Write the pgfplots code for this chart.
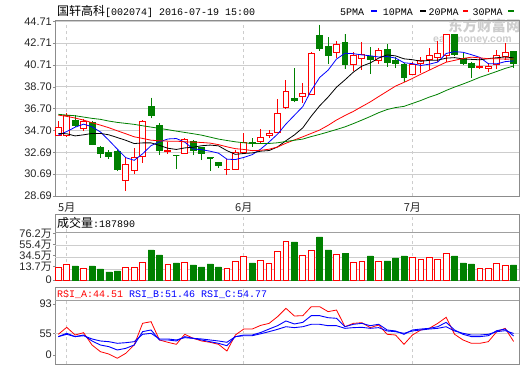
\documentclass[border=0pt]{standalone}
\usepackage{pgfplots}
\pgfplotsset{compat=1.18}
\usepackage{pgfplotstable}
\usepgfplotslibrary{statistics}
\usepackage{fontspec}
\setmainfont{Liberation Sans}
\newfontfamily\cjk{Noto Sans CJK SC}
\newfontfamily\mono{Liberation Mono}
\definecolor{cgreen}{RGB}{0,128,0}
\definecolor{cred}{RGB}{255,0,0}
\definecolor{cblue}{RGB}{0,0,255}
\definecolor{framec}{RGB}{140,140,140}
\definecolor{sepc}{RGB}{160,160,160}
\definecolor{gridc}{RGB}{205,205,205}
\definecolor{wmark}{RGB}{205,205,205}

\pgfplotstableread{
i o h l c v up
0 34.25 35.56 34.15 35.00 15.9 1
1 34.22 36.30 34.18 36.08 20.0 1
2 35.63 36.11 35.04 35.18 17.5 0
3 34.89 35.72 34.67 35.50 14.6 1
4 35.41 35.56 33.35 33.45 17.5 0
5 33.11 33.29 32.19 32.59 13.8 0
6 32.68 32.89 32.07 32.28 10.0 0
7 32.74 32.95 30.96 31.15 11.3 0
8 30.13 32.28 29.15 31.57 15.9 1
9 30.99 33.05 30.69 32.22 15.9 1
10 32.28 35.62 31.73 35.56 22.1 1
11 36.88 37.71 35.81 36.05 37.5 0
12 35.19 35.35 32.43 32.89 31.3 0
13 32.74 33.60 32.55 32.89 19.6 1
14 32.43 32.47 31.15 32.43 21.3 0
15 32.59 34.03 32.50 33.91 22.1 1
16 33.72 33.82 32.43 32.89 18.8 0
17 33.14 33.20 31.98 32.59 16.3 0
18 32.22 32.24 30.99 32.20 20.0 0
19 31.79 31.82 31.27 31.51 16.3 0
20 31.08 32.07 30.59 31.15 14.6 1
21 31.15 32.89 31.05 32.68 23.4 1
22 32.68 34.43 32.59 33.60 29.6 1
23 33.60 33.97 33.20 33.48 21.3 0
24 33.66 34.80 33.51 34.03 25.0 1
25 34.21 34.74 33.97 34.43 20.9 1
26 34.52 37.56 34.43 36.27 35.9 1
27 36.79 39.34 36.67 38.26 48.4 1
28 37.65 40.41 37.28 37.46 47.5 0
29 37.86 39.03 37.19 38.05 30.9 1
30 38.02 41.85 37.96 41.79 37.1 1
31 43.42 44.40 42.00 42.25 53.8 0
32 42.40 43.26 40.78 41.58 37.5 0
33 41.88 42.92 41.33 42.56 32.5 1
34 42.80 43.54 40.32 40.72 32.9 0
35 40.78 41.88 40.16 41.58 22.5 1
36 41.33 42.80 40.26 41.70 23.4 1
37 41.45 42.31 39.86 41.18 30.0 0
38 41.11 42.25 40.78 42.00 23.4 1
39 42.10 42.62 40.56 40.96 23.8 0
40 41.08 41.48 40.41 40.84 27.5 0
41 40.78 40.87 39.18 39.55 30.0 0
42 39.86 40.96 39.80 40.78 28.4 1
43 40.87 41.48 39.95 41.15 25.9 1
44 41.18 42.25 40.26 41.58 28.4 1
45 41.39 42.92 41.02 41.79 25.9 1
46 41.58 43.54 41.02 43.48 33.4 1
47 43.48 43.48 41.58 41.64 30.0 0
48 41.27 41.79 40.72 40.87 21.3 0
49 40.87 41.02 39.49 40.47 20.0 0
50 40.47 41.33 40.41 40.53 14.6 1
51 40.41 40.87 40.04 40.59 14.6 1
52 40.72 42.10 40.35 41.58 20.9 1
53 41.45 42.71 41.18 41.88 18.4 1
54 41.94 42.00 40.47 40.81 18.8 0
}\candles

\pgfplotstableread{
i ma5 ma10 ma20 ma30
0 34.27 34.43 36.11 36.18
1 34.60 34.40 35.99 36.11
2 35.00 34.20 35.84 36.05
3 35.28 34.30 35.65 35.93
4 35.04 34.43 35.41 35.81
5 34.56 34.43 35.19 35.72
6 33.80 34.30 34.95 35.56
7 32.99 34.05 34.67 35.44
8 32.21 33.80 34.40 35.35
9 31.96 33.50 34.12 35.26
10 32.56 33.56 33.97 35.13
11 33.31 33.56 33.81 35.01
12 33.66 33.33 33.75 34.89
13 33.92 33.07 33.72 34.77
14 33.96 32.96 33.72 34.64
15 33.63 33.10 33.66 34.52
16 33.00 33.16 33.63 34.40
17 32.94 33.30 33.60 34.27
18 32.80 33.36 33.54 34.09
19 32.62 33.29 33.40 33.91
20 32.07 32.85 33.20 33.78
21 32.03 32.51 33.03 33.66
22 32.23 32.59 32.96 33.57
23 32.48 32.64 32.85 33.51
24 32.99 32.80 32.88 33.51
25 33.64 32.86 32.98 33.51
26 34.36 33.19 33.18 33.57
27 35.29 33.76 33.53 33.69
28 36.09 34.29 33.83 33.80
29 36.89 34.94 34.12 33.91
30 38.37 36.01 34.43 34.14
31 39.56 36.96 34.74 34.34
32 40.23 37.76 35.17 34.56
33 41.25 38.67 35.66 34.79
34 41.78 39.34 36.07 35.03
35 41.74 40.05 36.45 35.33
36 41.63 40.60 36.89 35.65
37 41.55 40.89 37.32 35.98
38 41.44 41.34 37.81 36.33
39 41.48 41.63 38.29 36.62
40 41.34 41.54 38.77 36.80
41 40.91 41.27 39.11 36.91
42 40.83 41.19 39.47 37.18
43 40.66 41.05 39.86 37.45
44 40.78 41.13 40.23 37.76
45 40.97 41.15 40.60 38.02
46 41.76 41.33 40.96 38.37
47 41.93 41.38 41.13 38.68
48 41.87 41.26 41.30 38.96
49 41.65 41.22 41.42 39.26
50 41.40 41.18 41.36 39.58
51 40.82 41.29 41.28 39.84
52 40.81 41.37 41.28 40.11
53 41.01 41.44 41.24 40.39
54 41.08 41.36 41.25 40.61
}\mas

\pgfplotstableread{
i a b c
0 53.7 50.7 50.7
1 62.7 55.0 53.7
2 52.8 50.7 50.7
3 55.8 52.8 51.9
4 39.9 45.1 47.7
5 31.3 39.9 45.1
6 28.3 37.8 44.2
7 22.8 33.5 42.1
8 29.2 35.6 42.9
9 39.9 39.9 44.2
10 67.9 57.1 53.7
11 70.0 59.3 55.0
12 46.4 46.4 47.7
13 43.4 46.4 47.7
14 40.8 45.1 46.4
15 53.7 50.7 49.4
16 48.6 48.5 48.5
17 45.1 46.4 47.7
18 43.4 44.2 46.4
19 40.8 42.1 45.1
20 32.2 39.0 43.4
21 52.8 50.7 50.7
22 60.5 52.8 51.9
23 60.5 52.8 51.9
24 65.2 56.0 54.4
25 67.8 60.5 57.1
26 76.4 64.8 60.1
27 87.2 70.9 63.5
28 77.3 67.0 62.3
29 77.7 69.1 63.5
30 89.3 77.7 66.6
31 89.3 77.7 66.6
32 82.9 75.1 64.8
33 85.0 74.3 64.8
34 63.5 63.5 61.4
35 67.8 66.6 62.3
36 68.7 67.8 62.7
37 62.3 64.8 61.4
38 65.7 66.6 62.3
39 53.7 59.3 58.0
40 52.8 58.0 57.1
41 40.8 53.7 55.0
42 52.8 59.3 58.0
43 59.3 60.5 59.3
44 61.4 61.4 60.5
45 67.8 63.5 61.4
46 75.6 69.1 63.5
47 53.7 59.3 58.0
48 46.4 53.7 55.0
49 42.1 50.7 52.8
50 42.1 50.7 52.8
51 44.2 51.9 53.7
52 57.1 58.4 57.1
53 61.4 60.5 58.4
54 44.5 51.5 54.8
}\rsi

\pgfplotsset{
  panel/.style={
    scale only axis, width=464pt, xmin=-0.39, xmax=54.64,
    axis line style={framec, line width=0.8pt},
    tick align=outside, major tick length=2pt,
    ytick pos=left, xtick pos=bottom,
    ytick style={draw=framec, line width=0.6pt},
    xtick style={draw=none},
    xtick={1,22,42}, xmajorgrids,
    x grid style={gridc, dash pattern=on 3pt off 3pt, line width=0.7pt},
    y grid style={gridc, line width=0.7pt},
    tick label style={font=\fontsize{11}{11}\selectfont, text=black!85},
    yticklabel style={inner sep=1pt},
    clip=true,
  }
}

\begin{document}
\begin{tikzpicture}
\path[use as bounding box] (0,0) rectangle (520pt,365pt);
% watermark
\node[anchor=base west, inner sep=0, text=wmark] at (448pt,333pt) {\cjk\bfseries\fontsize{14.5}{14.5}\selectfont 东方财富网};
\node[anchor=base west, inner sep=0, text=wmark] at (433pt,322pt) {\bfseries\fontsize{10.5}{10.5}\selectfont eastmoney.com};

% ---------- price panel ----------
\begin{axis}[panel, at={(55pt,169pt)}, anchor=south west, height=176pt,
  ymin=28.69, ymax=44.83,
  ytick={28.69,30.69,32.69,34.70,36.70,38.70,40.71,42.71,44.71},
  yticklabels={28.69,30.69,32.69,34.70,36.70,38.70,40.71,42.71,44.71},
  ymajorgrids,
  xticklabels={5月,6月,7月},
  xticklabel style={font=\cjk\fontsize{11}{11}\selectfont, anchor=north, yshift=-1pt},
  boxplot/draw direction=y,
]
\pgfplotstablegetrowsof{\candles}
\pgfmathtruncatemacro\nrows{\pgfplotsretval-1}
\pgfplotsforeachungrouped \r in {0,...,\nrows}{%
  \pgfplotstablegetelem{\r}{i}\of\candles\edef\cI{\pgfplotsretval}%
  \pgfplotstablegetelem{\r}{o}\of\candles\edef\cO{\pgfplotsretval}%
  \pgfplotstablegetelem{\r}{h}\of\candles\edef\cH{\pgfplotsretval}%
  \pgfplotstablegetelem{\r}{l}\of\candles\edef\cL{\pgfplotsretval}%
  \pgfplotstablegetelem{\r}{c}\of\candles\edef\cC{\pgfplotsretval}%
  \pgfplotstablegetelem{\r}{up}\of\candles\edef\cU{\pgfplotsretval}%
  \pgfmathsetmacro\cLo{min(\cO,\cC)}%
  \pgfmathsetmacro\cHi{max(\cO,\cC)}%
  \ifnum\cU=1 \def\cCol{cred}\def\cFill{white}\else\def\cCol{cgreen}\def\cFill{cgreen}\fi
  \edef\doplot{\noexpand\addplot[draw=\cCol, fill=\cFill, line width=0.9pt, solid,
     boxplot prepared={draw direction=y, draw position=\cI, lower whisker=\cL, lower quartile=\cLo,
     median=\cLo, upper quartile=\cHi, upper whisker=\cH, box extend=0.7, whisker extend=0}]
     coordinates {};}%
  \doplot
}
\addplot[cblue, line width=0.8pt, mark=none] table[x=i,y=ma5]{\mas};
\addplot[black, line width=0.8pt, mark=none] table[x=i,y=ma10]{\mas};
\addplot[cred, line width=0.8pt, mark=none] table[x=i,y=ma20]{\mas};
\addplot[cgreen, line width=0.8pt, mark=none] table[x=i,y=ma30]{\mas};
\end{axis}

% ---------- volume panel ----------
\begin{axis}[panel, at={(55pt,85pt)}, anchor=south west, height=65.7pt,
  ymin=0, ymax=82.1,
  ytick={0,16.6,30.4,44.6,58.4},
  yticklabels={0,{13.7{\cjk 万}},{34.5{\cjk 万}},{55.4{\cjk 万}},{76.2{\cjk 万}}},
  extra y ticks={13.4,28.4,43.4}, extra y tick labels={},
  extra y tick style={ymajorgrids=true, major tick length=0pt},
  xticklabels={},
]
\addplot[sepc, line width=0.8pt, mark=none] coordinates {(-0.39,59.1) (54.64,59.1)};
\addplot[ybar, bar width=0.68, bar shift=0pt, draw=cred, fill=white, line width=0.9pt]
  table[x=i, y=v, restrict expr to domain={\thisrow{up}}{1:1}]{\candles};
\addplot[ybar, bar width=0.7, bar shift=0pt, draw=cgreen, fill=cgreen, line width=0.5pt]
  table[x=i, y=v, restrict expr to domain={\thisrow{up}}{0:0}]{\candles};
\end{axis}

% ---------- RSI panel ----------
\begin{axis}[panel, at={(55pt,1pt)}, anchor=south west, height=76.7pt,
  ymin=15.44, ymax=114.28,
  ytick={27,55,93}, yticklabels={0,55,93},
  extra y ticks={55}, extra y tick labels={},
  extra y tick style={ymajorgrids=true, major tick length=0pt},
  xticklabels={},
]
\addplot[sepc, line width=0.8pt, mark=none] coordinates {(-0.39,97.0) (54.64,97.0)};
\addplot[cred, line width=0.8pt, mark=none] table[x=i,y=a]{\rsi};
\addplot[cblue, line width=0.9pt, mark=none] table[x=i,y=b]{\rsi};
\addplot[cblue, line width=0.9pt, mark=none] table[x=i,y=c]{\rsi};
\end{axis}

% ---------- headers ----------
\node[anchor=base west, inner sep=0] at (57pt,349pt)
  {{\cjk\fontsize{12}{12}\selectfont 国轩高科}{\mono\fontsize{10}{10}\selectfont [002074] 2016-07-19 15:00}};
\node[anchor=base west, inner sep=0] at (340pt,349pt) {\mono\fontsize{10}{10}\selectfont 5PMA};
\fill[cblue] (371pt,353pt) rectangle (376.5pt,355pt);
\node[anchor=base west, inner sep=0] at (382.7pt,349pt) {\mono\fontsize{10}{10}\selectfont 10PMA};
\fill[black] (420pt,353pt) rectangle (425.5pt,355pt);
\node[anchor=base west, inner sep=0] at (428.3pt,349pt) {\mono\fontsize{10}{10}\selectfont 20PMA};
\fill[cred] (462.7pt,353pt) rectangle (468.2pt,355pt);
\node[anchor=base west, inner sep=0] at (472.3pt,349pt) {\mono\fontsize{10}{10}\selectfont 30PMA};
\fill[cgreen] (508.3pt,353pt) rectangle (513.8pt,355pt);

\node[anchor=base west, inner sep=0] at (57pt,138pt)
  {{\cjk\fontsize{12}{12}\selectfont 成交量}{\mono\fontsize{10}{10}\selectfont :187890}};
\node[anchor=base west, inner sep=0] at (57pt,68pt)
  {\mono\fontsize{10}{10}\selectfont {\color{cred}RSI\_A:44.51} {\color{cblue}RSI\_B:51.46} {\color{cblue}RSI\_C:54.77}};
\end{tikzpicture}
\end{document}
